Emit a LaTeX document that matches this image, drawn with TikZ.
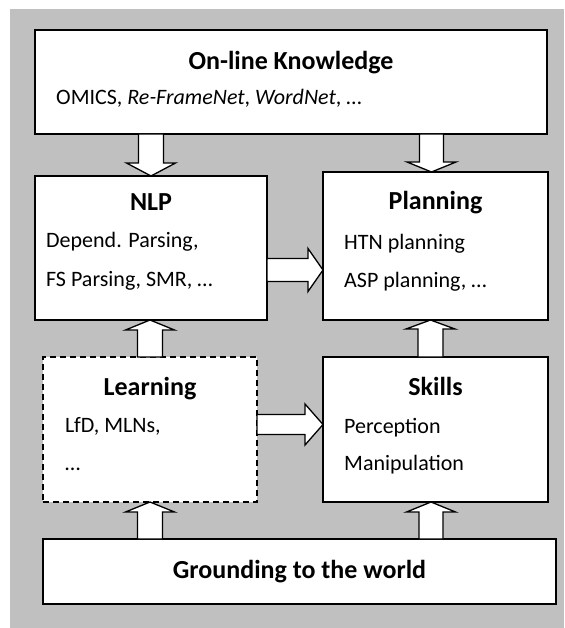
\documentclass[tikz,border=0pt]{standalone}
\usepackage{fontspec}
\setmainfont{Carlito}
\usetikzlibrary{calc}
\definecolor{bggray}{RGB}{192,192,192}
% block arrow: #1 start, #2 tip, #3 half shaft width, #4 half head width, #5 head length
\newcommand\blockarrow[5]{%
  \coordinate (ba-h) at ($(#2)!#5!(#1)$);
  \draw[barrow] ($(#1)!#3!90:(#2)$) -- ($(ba-h)!#3!90:(#2)$) -- ($(ba-h)!#4!90:(#2)$)
    -- (#2) -- ($(ba-h)!#4!-90:(#2)$) -- ($(ba-h)!#3!-90:(#2)$) -- ($(#1)!#3!-90:(#2)$) -- cycle;
}
\begin{document}
\begin{tikzpicture}[x=1pt,y=-1pt,
  box/.style={draw=black, fill=white, line width=1.6pt, inner sep=0pt, outer sep=0pt},
  dbox/.style={box, dash pattern=on 6pt off 4pt},
  ttl/.style={anchor=base, inner sep=0pt, font=\fontsize{26}{30}\selectfont\bfseries},
  body/.style={anchor=base west, inner sep=0pt, font=\fontsize{22}{26}\selectfont},
  barrow/.style={draw=black, fill=white, line width=1.3pt, line join=miter}]
\useasboundingbox (0,0) rectangle (564,628);
\fill[bggray] (10,9) rectangle (564,628);
% boxes
\node[box, minimum width=512pt, minimum height=104pt] (know) at (291,82) {};
\node[box, minimum width=232pt, minimum height=144pt] (nlp) at (151,248) {};
\node[box, minimum width=225pt, minimum height=148pt] (plan) at (435.5,246) {};
\node[dbox, minimum width=214pt, minimum height=145pt] (learn) at (150,429.5) {};
\node[box, minimum width=225pt, minimum height=145pt] (skills) at (435.5,429.5) {};
\node[box, minimum width=513pt, minimum height=65pt] (ground) at (299.5,571.5) {};
% texts
\node[ttl] (know-t) at (291,70) {On-line Knowledge};
\node[body] (know-b) at (56,105) {OMICS, \textit{Re-FrameNet}, \textit{WordNet}, …};
\node[ttl] (nlp-t) at (151,211) {NLP};
\node[body] (nlp-b1) at (46,247) {Depend. Parsing,};
\node[body] (nlp-b2) at (46,286) {FS Parsing, SMR, …};
\node[ttl] (plan-t) at (435.5,210) {Planning};
\node[body] (plan-b1) at (344,249) {HTN planning};
\node[body] (plan-b2) at (344,287) {ASP planning, …};
\node[ttl] (learn-t) at (150,395) {Learning};
\node[body] (learn-b1) at (65,432) {LfD, MLNs,};
\node[body] (learn-b2) at (65,470) {…};
\node[ttl] (skills-t) at (435.5,395) {Skills};
\node[body] (skills-b1) at (344,433) {Perception};
\node[body] (skills-b2) at (344,470) {Manipulation};
\node[ttl] (ground-t) at (299.5,578) {Grounding to the world};
% connector end points
\coordinate (kp-tip) at ($(plan.north)+(-4,0)$);
\coordinate (sp-tip) at ($(plan.south)+(-5,0)$);
\coordinate (gs-tip) at ($(skills.south)+(-4.5,0)$);
\coordinate (np-s) at ($(nlp.east)+(0,22)$);
\coordinate (ls-s) at ($(learn.east)+(0,-5)$);
% arrows
\blockarrow{nlp.north |- know.south}{nlp.north}{12.5pt}{24.5pt}{13pt}
\blockarrow{kp-tip |- know.south}{kp-tip}{12pt}{24.5pt}{10pt}
\blockarrow{learn.north}{learn.north |- nlp.south}{12.5pt}{24.5pt}{10pt}
\blockarrow{sp-tip |- skills.north}{sp-tip}{12.5pt}{24.5pt}{9pt}
\blockarrow{learn.south |- ground.north}{learn.south}{12.5pt}{24.5pt}{10pt}
\blockarrow{gs-tip |- ground.north}{gs-tip}{12pt}{24.5pt}{10pt}
\blockarrow{np-s}{np-s -| plan.west}{11.5pt}{21.5pt}{15pt}
\blockarrow{ls-s}{ls-s -| skills.west}{10pt}{20.5pt}{18pt}
\end{tikzpicture}
\end{document}
